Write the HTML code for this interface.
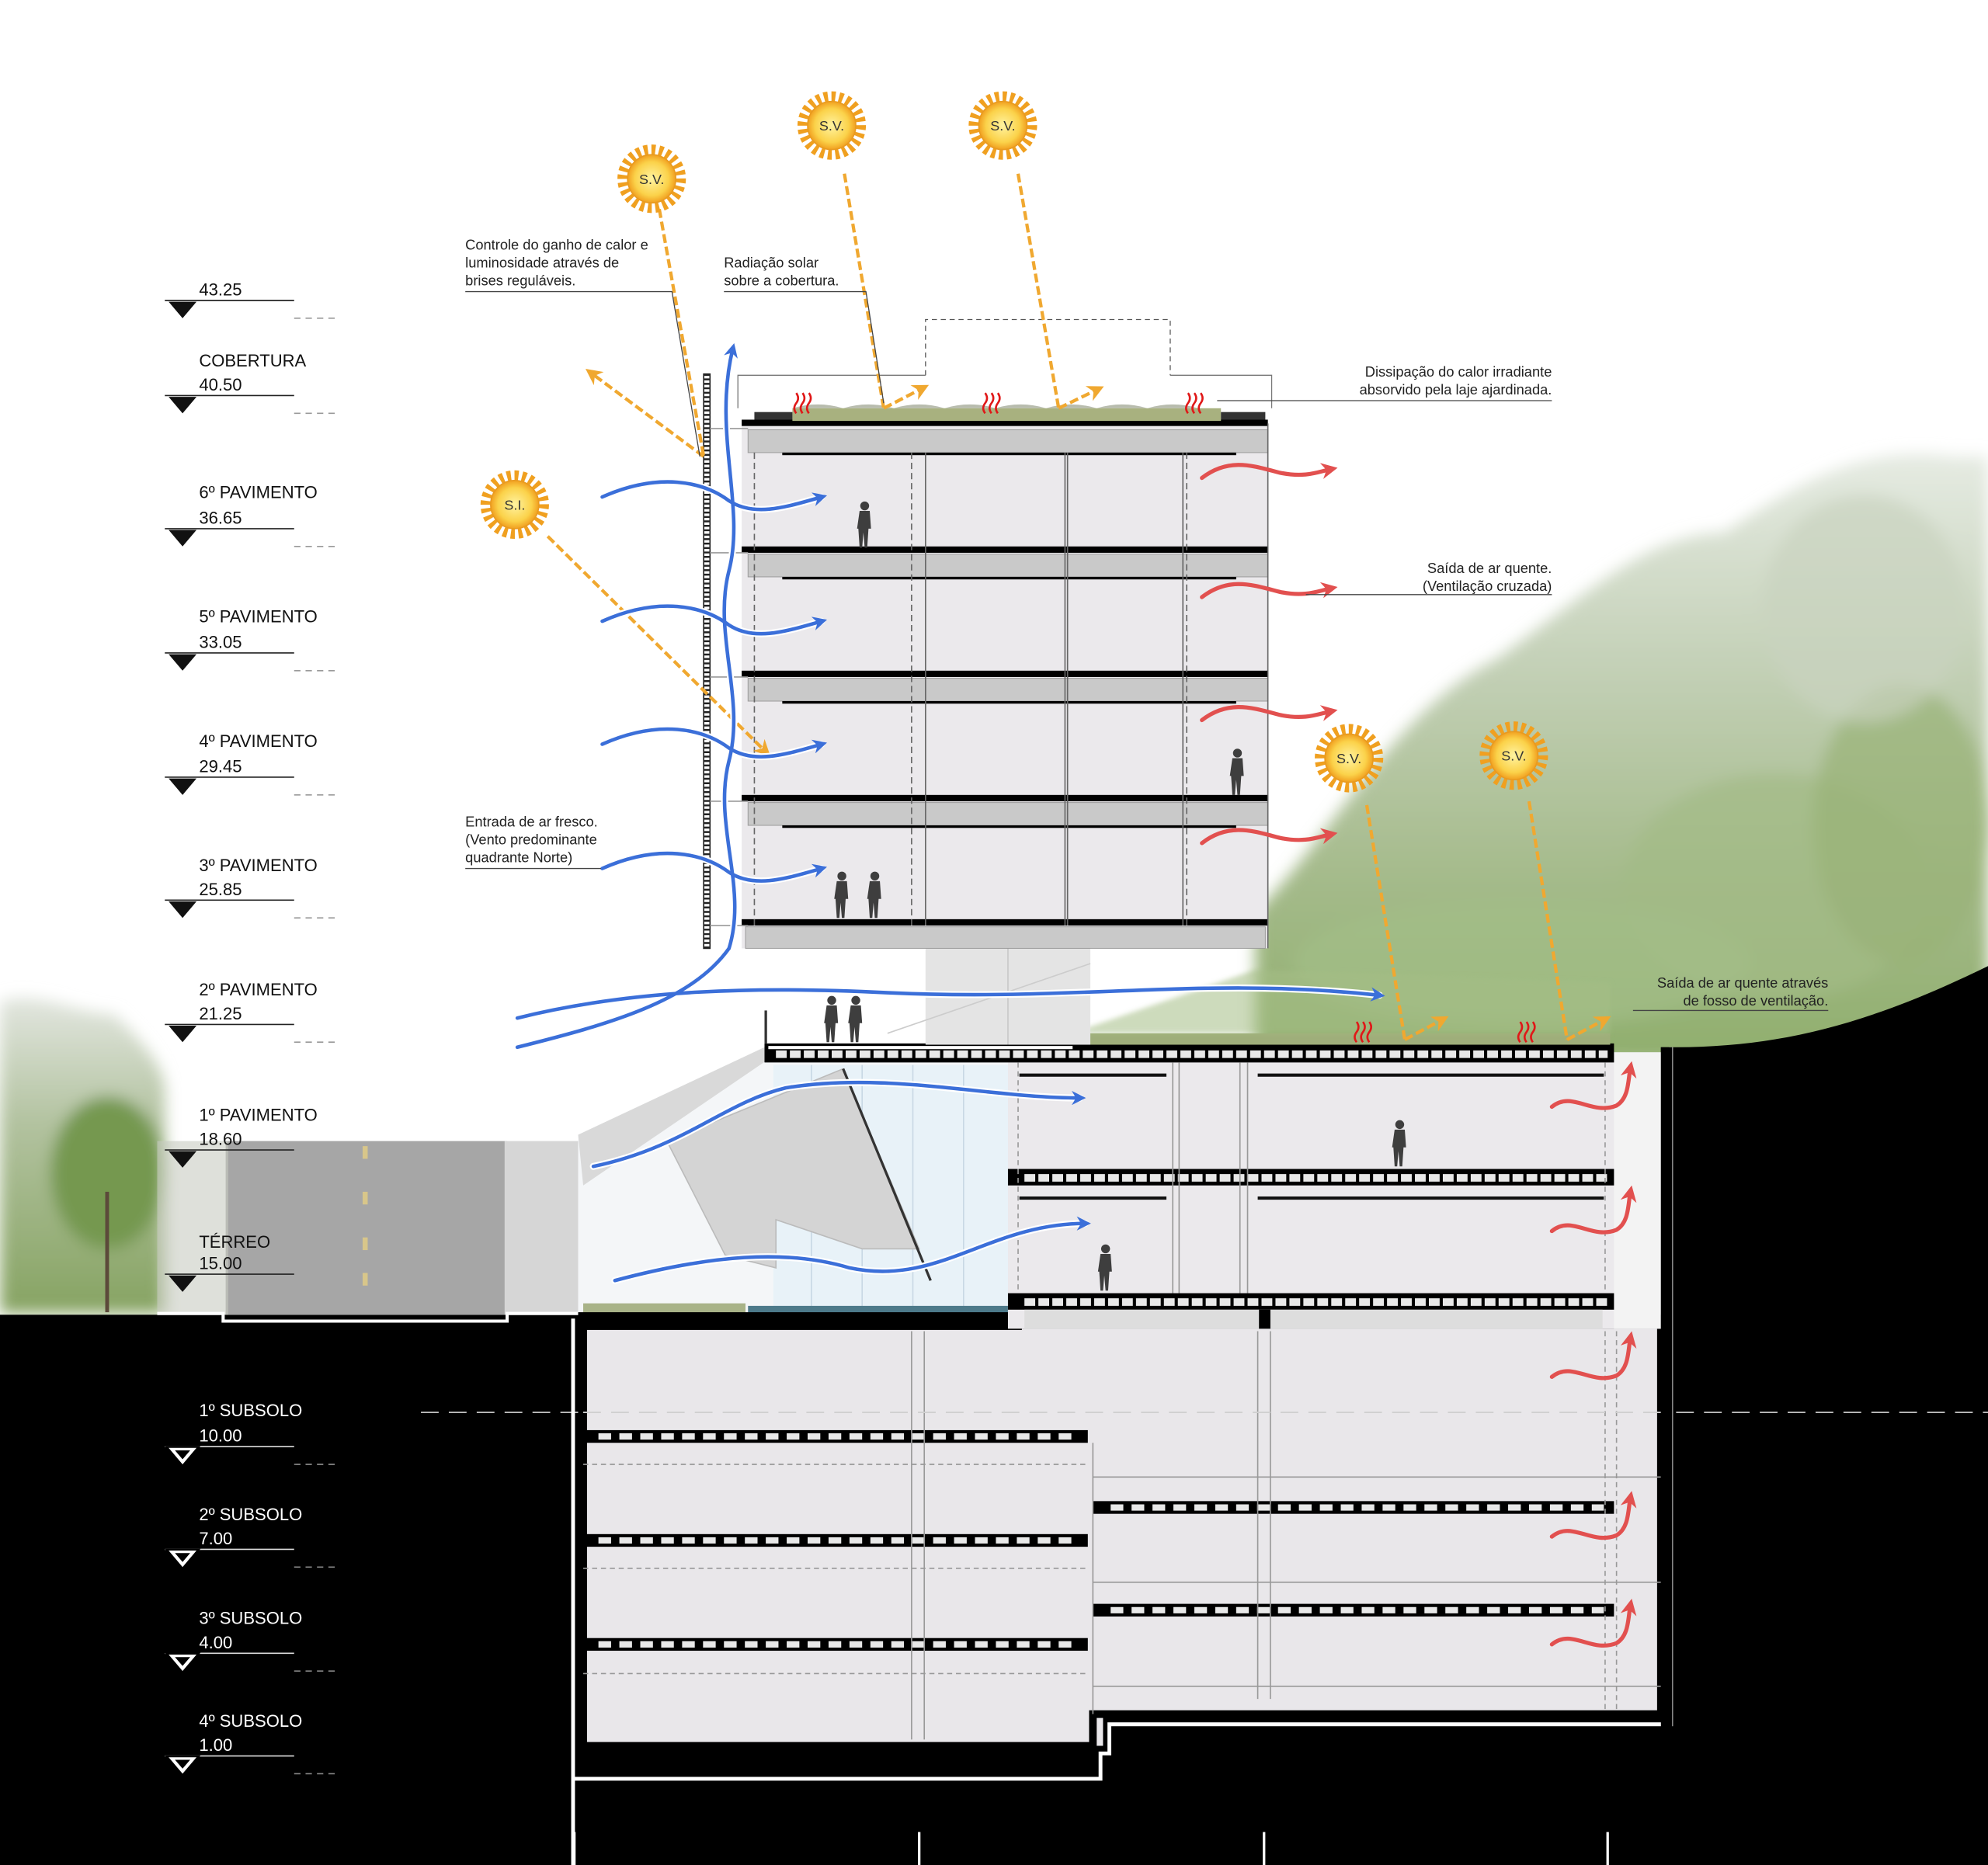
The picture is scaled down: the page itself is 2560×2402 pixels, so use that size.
<!DOCTYPE html>
<html><head><meta charset="utf-8"><style>
html,body{margin:0;padding:0;background:#fff}
svg{display:block}
text{font-family:"Liberation Sans",sans-serif}
</style></head><body>
<svg width="2560" height="2402" viewBox="0 0 1568 1471" preserveAspectRatio="none" xmlns="http://www.w3.org/2000/svg">
<defs>
<linearGradient id="hill" x1="0" y1="0" x2="0" y2="1">
<stop offset="0" stop-color="#e6ebe3"/><stop offset="0.35" stop-color="#c3d0b6"/><stop offset="0.7" stop-color="#a4ba8a"/><stop offset="1" stop-color="#8fae6c"/></linearGradient>
<linearGradient id="ltree" x1="0" y1="0" x2="0" y2="1">
<stop offset="0" stop-color="#e2e6df"/><stop offset="0.4" stop-color="#b2c29f"/><stop offset="1" stop-color="#86a362"/></linearGradient>
<radialGradient id="sun"><stop offset="0" stop-color="#fff3a0"/><stop offset="0.7" stop-color="#fbd24a"/><stop offset="1" stop-color="#f1a020"/></radialGradient>
<filter id="blur"><feGaussianBlur stdDeviation="6"/></filter>
<filter id="blur2"><feGaussianBlur stdDeviation="2"/></filter>
<marker id="ab" viewBox="0 0 10 10" refX="6" refY="5" markerWidth="4" markerHeight="4" orient="auto"><path d="M0,0 L10,5 L0,10 L3,5 z" fill="#3b6fd9"/></marker>
<marker id="ar" viewBox="0 0 10 10" refX="6" refY="5" markerWidth="4" markerHeight="4" orient="auto"><path d="M0,0 L10,5 L0,10 L3,5 z" fill="#e2504f"/></marker>
<marker id="ao" viewBox="0 0 10 10" refX="6" refY="5" markerWidth="5" markerHeight="5" orient="auto"><path d="M0,0 L10,5 L0,10 L3,5 z" fill="#f0a830"/></marker>
<g id="sunG"><circle r="23" fill="none" stroke="#f0a020" stroke-width="8" stroke-dasharray="3.2 2.8"/><circle r="19" fill="url(#sun)" stroke="#e89a20" stroke-width="1"/></g>
<g id="heat" fill="none" stroke="#e01818" stroke-width="1.6"><path d="M0,10 q-3,-4 0,-8 q3,-4 0,-8"/><path d="M5,10 q-3,-4 0,-8 q3,-4 0,-8"/><path d="M10,10 q-3,-4 0,-8 q3,-4 0,-8"/></g>
<g id="person" fill="#3e3e3e"><circle cx="0" cy="-33" r="3.5"/><path d="M-4,-29 h8 l1,14 h-2 l-1,15 h-2 l-1,-12 l-1,12 h-2 l-1,-15 h-1 z"/></g>
</defs>

<!-- greenery right hill -->
<g filter="url(#blur)">
<path d="M990,835 L990,720 C1050,660 1100,560 1180,520 C1250,470 1300,420 1360,420 C1420,380 1470,350 1540,360 L1568,360 L1568,840 Z" fill="url(#hill)"/>
<ellipse cx="1400" cy="700" rx="120" ry="90" fill="#a3ba86" opacity="0.7"/>
<ellipse cx="1500" cy="650" rx="70" ry="110" fill="#98b276" opacity="0.7"/>
<ellipse cx="1200" cy="760" rx="180" ry="50" fill="#a2bd88" opacity="0.7"/>
<ellipse cx="1470" cy="480" rx="80" ry="90" fill="#c9d3bf" opacity="0.7"/>
</g>
<!-- left trees -->
<g filter="url(#blur)">
<path d="M0,790 C30,780 60,800 90,800 C110,820 130,840 130,860 L130,1036 L0,1036 Z" fill="url(#ltree)"/>
<ellipse cx="85" cy="925" rx="45" ry="60" fill="#759850"/>
</g>
<rect x="83" y="940" width="3" height="95" fill="#5c4a3a"/>

<!-- ground black -->
<rect x="0" y="1037" width="1568" height="434" fill="#000"/>
<path d="M1310,826 L1320,826 C1400,826 1470,810 1568,762 L1568,1040 L1310,1040 Z" fill="#000"/>
<line x1="332" y1="1114" x2="1568" y2="1114" stroke="#bbb" stroke-width="1.2" stroke-dasharray="14 8"/>

<!-- road & wall -->
<rect x="178" y="900" width="222" height="137" fill="#a6a6a6"/>
<g fill="#d8c68a"><rect x="286" y="904" width="4" height="10"/><rect x="286" y="940" width="4" height="10"/><rect x="286" y="976" width="4" height="10"/><rect x="286" y="1004" width="4" height="10"/></g>
<rect x="124" y="900" width="56" height="137" fill="#c8cbc2" opacity="0.6"/>
<rect x="398" y="900" width="58" height="137" fill="#d6d6d6"/>
<path d="M124,1036 L176,1036 L176,1042 L400,1042 L400,1036 L456,1036" fill="none" stroke="#fff" stroke-width="2.5"/>

<!-- basement outline -->
<path d="M452,1040 L452,1471 M452,1403 L868,1403 L868,1383 L875,1383 L875,1360 L1318,1360 L1318,826" fill="none" stroke="#fff" stroke-width="3"/>
<path d="M460,1048 L1310,1048 L1310,1352 L870,1352 L870,1377 L460,1377 Z" fill="#e9e7ea"/>
<path d="M460,1048 L460,1377 L862,1377 L862,1352 L1310,1352 L1310,1048" fill="none" stroke="#000" stroke-width="6"/>
<g stroke="#fff" stroke-width="2"><line x1="453" y1="1445" x2="453" y2="1471"/><line x1="725" y1="1445" x2="725" y2="1471"/><line x1="997" y1="1445" x2="997" y2="1471"/><line x1="1268" y1="1445" x2="1268" y2="1471"/></g>
<!-- basement slabs -->
<g fill="#000">
<rect x="460" y="1128" width="398" height="10"/><rect x="460" y="1210" width="398" height="10"/><rect x="460" y="1292" width="398" height="10"/>
<rect x="862" y="1184" width="411" height="10"/><rect x="862" y="1265" width="411" height="10"/>
</g>
<g stroke="#e8e8e8" stroke-width="5" stroke-dasharray="10 6.5">
<line x1="472" y1="1133" x2="850" y2="1133"/><line x1="472" y1="1215" x2="850" y2="1215"/><line x1="472" y1="1297" x2="850" y2="1297"/>
<line x1="876" y1="1189" x2="1265" y2="1189"/><line x1="876" y1="1270" x2="1265" y2="1270"/>
</g>
<g stroke="#999" stroke-width="1" fill="none">
<line x1="719" y1="1050" x2="719" y2="1372"/><line x1="729" y1="1050" x2="729" y2="1372"/>
<line x1="992" y1="1050" x2="992" y2="1340"/><line x1="1002" y1="1050" x2="1002" y2="1340"/>
<line x1="862" y1="1138" x2="862" y2="1352"/>
<line x1="460" y1="1155" x2="858" y2="1155" stroke-dasharray="4 3"/>
<line x1="460" y1="1237" x2="858" y2="1237" stroke-dasharray="4 3"/>
<line x1="460" y1="1320" x2="858" y2="1320" stroke-dasharray="4 3"/>
<line x1="862" y1="1165" x2="1310" y2="1165"/>
<line x1="862" y1="1248" x2="1310" y2="1248"/>
<line x1="862" y1="1330" x2="1310" y2="1330"/>
<line x1="1266" y1="1050" x2="1266" y2="1350" stroke-dasharray="4 3"/>
<line x1="1275" y1="1050" x2="1275" y2="1350" stroke-dasharray="4 3"/>
</g>
<line x1="460" y1="1114" x2="1310" y2="1114" stroke="#d0d0d0" stroke-width="1.2" stroke-dasharray="14 8"/>

<!-- atrium area -->
<path d="M456,895 L603,826 L795,826 L795,1035 L456,1035 Z" fill="#f4f6f8"/>
<path d="M610,840 L795,840 L795,1035 L610,1035 Z" fill="#e8f2f8"/>
<g stroke="#c8d8e4" stroke-width="1"><line x1="640" y1="840" x2="640" y2="1035"/><line x1="680" y1="840" x2="680" y2="1035"/><line x1="720" y1="840" x2="720" y2="1035"/><line x1="760" y1="840" x2="760" y2="1035"/></g>
<path d="M456,895 L603,826 L620,826 L460,935 Z" fill="#d9d9d9"/>
<path d="M526,900 L665,843 L725,985 L680,985 L612,962 L612,1000 L572,990 Z" fill="#d4d4d4" stroke="#bbb"/>
<line x1="665" y1="843" x2="734" y2="1010" stroke="#333" stroke-width="2"/>
<rect x="460" y="1028" width="128" height="9" fill="#a8b388"/>
<rect x="590" y="1030" width="205" height="6" fill="#4d7a8a"/>
<rect x="456" y="1035" width="350" height="14" fill="#000"/>

<!-- podium -->
<rect x="795" y="830" width="515" height="218" fill="#ebe9ec"/>
<rect x="1273" y="830" width="37" height="218" fill="#f3f3f3"/>
<g fill="#000">
<rect x="603" y="823" width="670" height="15"/>
<rect x="795" y="922" width="478" height="13"/>
<rect x="795" y="1020" width="478" height="13"/>
</g>
<rect x="606" y="825" width="240" height="2.5" fill="#fff"/>
<g stroke="#e8e8e8" stroke-width="6" stroke-dasharray="8.5 2.5">
<line x1="612" y1="831.5" x2="1268" y2="831.5"/>
<line x1="808" y1="929" x2="1268" y2="929"/>
<line x1="808" y1="1027" x2="1268" y2="1027"/>
</g>
<rect x="808" y="1033" width="185" height="15" fill="#ddd"/>
<rect x="1002" y="1033" width="262" height="15" fill="#ddd"/>
<rect x="993" y="1033" width="9" height="15" fill="#000"/>
<g stroke="#111" stroke-width="2.5"><line x1="804" y1="848" x2="920" y2="848"/><line x1="992" y1="848" x2="1265" y2="848"/><line x1="804" y1="945" x2="920" y2="945"/><line x1="992" y1="945" x2="1265" y2="945"/></g>
<g stroke="#999" stroke-width="1" fill="none"><line x1="925" y1="838" x2="925" y2="1020"/><line x1="930" y1="838" x2="930" y2="1020"/><line x1="978" y1="838" x2="978" y2="1020"/><line x1="984" y1="838" x2="984" y2="1020"/><line x1="803" y1="838" x2="803" y2="1020" stroke-dasharray="4 3"/><line x1="1266" y1="838" x2="1266" y2="1020" stroke-dasharray="4 3"/></g>
<rect x="1310" y="826" width="9" height="550" fill="#000"/>
<!-- green roof -->
<rect x="845" y="815" width="425" height="9" fill="#9fae7a"/>
<path d="M845,815 L990,765 L1270,775 L1270,815 Z" fill="#a5be86" opacity="0.55" filter="url(#blur2)"/>

<!-- column under tower -->
<rect x="730" y="748" width="130" height="76" fill="#e4e4e4"/>
<line x1="795" y1="748" x2="795" y2="824" stroke="#c8c8c8"/>
<line x1="700" y1="815" x2="860" y2="760" stroke="#ccc"/>
<rect x="603" y="797" width="2" height="26" fill="#333"/>

<!-- tower -->
<rect x="585" y="334" width="415" height="414" fill="#ebe9ec"/>
<g fill="#c9c9c9" stroke="#9a9a9a" stroke-width="0.6">
<rect x="590" y="339" width="410" height="18"/><rect x="590" y="437" width="410" height="18"/><rect x="590" y="535" width="410" height="18"/><rect x="590" y="633" width="410" height="18"/><rect x="588" y="731" width="410" height="17"/>
</g>
<g fill="#000">
<rect x="585" y="331" width="415" height="5"/><rect x="585" y="431" width="415" height="5"/><rect x="585" y="529" width="415" height="5"/><rect x="585" y="627" width="415" height="5"/><rect x="585" y="725" width="415" height="5"/>
<rect x="617" y="357" width="358" height="2"/><rect x="617" y="455" width="358" height="2"/><rect x="617" y="553" width="358" height="2"/><rect x="617" y="651" width="358" height="2"/>
</g>
<g stroke="#666" stroke-width="1" fill="none">
<line x1="719" y1="357" x2="719" y2="730" stroke-dasharray="5 3"/><line x1="730" y1="357" x2="730" y2="730"/>
<line x1="840" y1="357" x2="840" y2="730"/><line x1="842" y1="357" x2="842" y2="730"/>
<line x1="933" y1="357" x2="933" y2="730"/><line x1="936" y1="357" x2="936" y2="730" stroke-dasharray="5 3"/>
<line x1="595" y1="357" x2="595" y2="730" stroke-dasharray="5 3"/>
<line x1="1000" y1="334" x2="1000" y2="748"/>
</g>
<rect x="625" y="322" width="338" height="10" fill="#a8b17f"/>
<path d="M625,322 q20,-6 40,0 q20,-6 40,0 q20,-6 40,0 q20,-6 40,0 q20,-6 40,0 q20,-6 40,0 q20,-6 40,0 q20,-6 40,0 z" fill="#b8bcae"/>
<rect x="595" y="325" width="30" height="6" fill="#333"/><rect x="963" y="325" width="35" height="6" fill="#333"/>
<path d="M730,296 L730,252 L923,252 L923,296" fill="none" stroke="#555" stroke-width="0.8" stroke-dasharray="4 3"/>
<path d="M582,322 L582,296 L730,296 M923,296 L1003,296 L1003,322" fill="none" stroke="#777" stroke-width="0.8"/>
<!-- brise screen -->
<rect x="555" y="295" width="5" height="453" fill="#fff" stroke="#222" stroke-width="1"/>
<line x1="557.5" y1="295" x2="557.5" y2="748" stroke="#222" stroke-width="4" stroke-dasharray="1.5 2"/>
<g stroke="#999" stroke-width="1"><line x1="560" y1="338" x2="590" y2="338"/><line x1="560" y1="436" x2="590" y2="436"/><line x1="560" y1="534" x2="590" y2="534"/><line x1="560" y1="632" x2="590" y2="632"/><line x1="560" y1="730" x2="590" y2="730"/></g>

<!-- people -->
<use href="#person" x="682" y="432"/>
<use href="#person" x="976" y="627"/>
<use href="#person" x="664" y="724"/><use href="#person" x="690" y="724"/>
<use href="#person" x="656" y="822"/><use href="#person" x="675" y="822"/>
<use href="#person" x="1104" y="920"/>
<use href="#person" x="872" y="1018"/>

<!-- heat symbols -->
<use href="#heat" x="628" y="316"/><use href="#heat" x="777" y="316"/><use href="#heat" x="937" y="316"/>
<use href="#heat" x="1070" y="812"/><use href="#heat" x="1199" y="812"/>

<!-- orange solar arrows -->
<g stroke="#f0a830" stroke-width="2.6" fill="none" stroke-dasharray="7 3">
<line x1="520" y1="165" x2="555" y2="360"/>
<line x1="555" y1="360" x2="466" y2="294" marker-end="url(#ao)"/>
<line x1="666" y1="137" x2="697" y2="322"/>
<line x1="697" y1="322" x2="728" y2="306" marker-end="url(#ao)"/>
<line x1="803" y1="137" x2="835" y2="322"/>
<line x1="835" y1="322" x2="866" y2="307" marker-end="url(#ao)"/>
<line x1="432" y1="423" x2="604" y2="593" marker-end="url(#ao)"/>
<line x1="1078" y1="635" x2="1108" y2="820"/>
<line x1="1108" y1="820" x2="1138" y2="804" marker-end="url(#ao)"/>
<line x1="1206" y1="632" x2="1236" y2="820"/>
<line x1="1236" y1="820" x2="1266" y2="804" marker-end="url(#ao)"/>
</g>

<!-- suns -->
<g font-size="11" text-anchor="middle" fill="#333">
<use href="#sunG" x="514" y="141"/><text x="514" y="145">S.V.</text>
<use href="#sunG" x="656" y="99"/><text x="656" y="103">S.V.</text>
<use href="#sunG" x="791" y="99"/><text x="791" y="103">S.V.</text>
<use href="#sunG" x="406" y="398"/><text x="406" y="402">S.I.</text>
<use href="#sunG" x="1064" y="598"/><text x="1064" y="602">S.V.</text>
<use href="#sunG" x="1194" y="596"/><text x="1194" y="600">S.V.</text>
</g>

<!-- blue wind -->
<g fill="none" stroke-linecap="round">
<g stroke="#fff" stroke-width="5.5">
<path d="M575,748 C590,700 562,650 575,600 C588,550 562,500 575,450 C588,400 562,340 578,275"/>
<path d="M475,392 C520,372 555,380 575,395 C595,408 620,400 648,392"/>
<path d="M475,490 C520,470 555,478 575,493 C595,506 620,498 648,490"/>
<path d="M475,587 C520,567 555,575 575,590 C595,603 620,595 648,587"/>
<path d="M475,685 C520,665 555,673 575,688 C595,701 620,693 648,685"/>
<path d="M408,803 C500,780 600,778 700,783 C850,790 950,770 1088,785"/>
<path d="M408,826 C480,808 545,790 575,748"/>
<path d="M468,920 C540,905 570,870 620,858 C700,845 780,866 852,866"/>
<path d="M485,1010 C560,990 620,985 670,1000 C740,1015 780,965 856,965"/>
</g>
<g stroke="#3b6fd9" stroke-width="2.8">
<path d="M575,748 C590,700 562,650 575,600 C588,550 562,500 575,450 C588,400 562,340 578,275" marker-end="url(#ab)"/>
<path d="M475,392 C520,372 555,380 575,395 C595,408 620,400 648,392" marker-end="url(#ab)"/>
<path d="M475,490 C520,470 555,478 575,493 C595,506 620,498 648,490" marker-end="url(#ab)"/>
<path d="M475,587 C520,567 555,575 575,590 C595,603 620,595 648,587" marker-end="url(#ab)"/>
<path d="M475,685 C520,665 555,673 575,688 C595,701 620,693 648,685" marker-end="url(#ab)"/>
<path d="M408,803 C500,780 600,778 700,783 C850,790 950,770 1088,785" marker-end="url(#ab)"/>
<path d="M408,826 C480,808 545,790 575,748"/>
<path d="M468,920 C540,905 570,870 620,858 C700,845 780,866 852,866" marker-end="url(#ab)"/>
<path d="M485,1010 C560,990 620,985 670,1000 C740,1015 780,965 856,965" marker-end="url(#ab)"/>
</g>
<g stroke="#e2504f" stroke-width="3.2">
<path d="M948,377 C970,360 990,368 1010,373 C1030,377 1040,372 1050,370" marker-end="url(#ar)"/>
<path d="M948,471 C970,454 990,462 1010,467 C1030,471 1040,466 1050,464" marker-end="url(#ar)"/>
<path d="M948,568 C970,551 990,559 1010,564 C1030,568 1040,563 1050,561" marker-end="url(#ar)"/>
<path d="M948,665 C970,648 990,656 1010,661 C1030,665 1040,660 1050,658" marker-end="url(#ar)"/>
<path d="M1224,873 C1240,860 1255,880 1275,872 C1285,866 1284,852 1286,842" marker-end="url(#ar)"/>
<path d="M1224,971 C1240,958 1255,978 1275,970 C1285,964 1284,950 1286,940" marker-end="url(#ar)"/>
<path d="M1224,1086 C1240,1073 1255,1093 1275,1085 C1285,1079 1284,1065 1286,1055" marker-end="url(#ar)"/>
<path d="M1224,1212 C1240,1199 1255,1219 1275,1211 C1285,1205 1284,1191 1286,1181" marker-end="url(#ar)"/>
<path d="M1224,1297 C1240,1284 1255,1304 1275,1296 C1285,1290 1284,1276 1286,1266" marker-end="url(#ar)"/>
</g>
</g>

<!-- level markers -->
<g font-size="13.5" fill="#111">
<g>
<text x="157" y="233">43.25</text>
<text x="157" y="289">COBERTURA</text><text x="157" y="308">40.50</text>
<text x="157" y="393">6º PAVIMENTO</text><text x="157" y="413">36.65</text>
<text x="157" y="491">5º PAVIMENTO</text><text x="157" y="511">33.05</text>
<text x="157" y="589">4º PAVIMENTO</text><text x="157" y="609">29.45</text>
<text x="157" y="687">3º PAVIMENTO</text><text x="157" y="706">25.85</text>
<text x="157" y="785">2º PAVIMENTO</text><text x="157" y="804">21.25</text>
<text x="157" y="884">1º PAVIMENTO</text><text x="157" y="903">18.60</text>
<text x="157" y="984">TÉRREO</text><text x="157" y="1001">15.00</text>
</g>
<g fill="#fff">
<text x="157" y="1117">1º SUBSOLO</text><text x="157" y="1137">10.00</text>
<text x="157" y="1199">2º SUBSOLO</text><text x="157" y="1218">7.00</text>
<text x="157" y="1281">3º SUBSOLO</text><text x="157" y="1300">4.00</text>
<text x="157" y="1362">4º SUBSOLO</text><text x="157" y="1381">1.00</text>
</g>
</g>
<g stroke="#222" stroke-width="1">
<line x1="130" y1="237" x2="232" y2="237"/><line x1="130" y1="312" x2="232" y2="312"/><line x1="130" y1="417" x2="232" y2="417"/><line x1="130" y1="515" x2="232" y2="515"/><line x1="130" y1="613" x2="232" y2="613"/><line x1="130" y1="710" x2="232" y2="710"/><line x1="130" y1="808" x2="232" y2="808"/><line x1="130" y1="907" x2="232" y2="907"/><line x1="130" y1="1005" x2="232" y2="1005"/>
</g>
<g stroke="#999" stroke-width="1" stroke-dasharray="5 4">
<line x1="232" y1="251" x2="268" y2="251"/><line x1="232" y1="326" x2="268" y2="326"/><line x1="232" y1="431" x2="268" y2="431"/><line x1="232" y1="529" x2="268" y2="529"/><line x1="232" y1="627" x2="268" y2="627"/><line x1="232" y1="724" x2="268" y2="724"/><line x1="232" y1="822" x2="268" y2="822"/>
</g>
<g stroke="#ddd" stroke-width="1">
<line x1="130" y1="1141" x2="232" y2="1141"/><line x1="130" y1="1222" x2="232" y2="1222"/><line x1="130" y1="1304" x2="232" y2="1304"/><line x1="130" y1="1385" x2="232" y2="1385"/>
</g>
<g stroke="#888" stroke-width="1" stroke-dasharray="5 4">
<line x1="232" y1="1155" x2="268" y2="1155"/><line x1="232" y1="1236" x2="268" y2="1236"/><line x1="232" y1="1318" x2="268" y2="1318"/><line x1="232" y1="1399" x2="268" y2="1399"/>
</g>
<g fill="#111">
<path d="M133,238 h22 l-11,13 z"/><path d="M133,313 h22 l-11,13 z"/><path d="M133,418 h22 l-11,13 z"/><path d="M133,516 h22 l-11,13 z"/><path d="M133,614 h22 l-11,13 z"/><path d="M133,711 h22 l-11,13 z"/><path d="M133,809 h22 l-11,13 z"/><path d="M133,908 h22 l-11,13 z"/><path d="M133,1006 h22 l-11,13 z"/>
</g>
<g fill="#fff" stroke="#000" stroke-width="3" paint-order="stroke">
<path d="M133,1142 h22 l-11,13 z"/><path d="M133,1223 h22 l-11,13 z"/><path d="M133,1305 h22 l-11,13 z"/><path d="M133,1386 h22 l-11,13 z"/>
</g>
<g fill="#000"><path d="M138,1144 h12 l-6,7 z"/><path d="M138,1225 h12 l-6,7 z"/><path d="M138,1307 h12 l-6,7 z"/><path d="M138,1388 h12 l-6,7 z"/></g>

<!-- annotations -->
<g font-size="11.2" fill="#222">
<text x="367" y="197">Controle do ganho de calor e</text>
<text x="367" y="211">luminosidade através de</text>
<text x="367" y="225">brises reguláveis.</text>
<text x="571" y="211">Radiação solar</text>
<text x="571" y="225">sobre a cobertura.</text>
<text x="1224" y="297" text-anchor="end">Dissipação do calor irradiante</text>
<text x="1224" y="311" text-anchor="end">absorvido pela laje ajardinada.</text>
<text x="1224" y="452" text-anchor="end">Saída de ar quente.</text>
<text x="1224" y="466" text-anchor="end">(Ventilação cruzada)</text>
<text x="367" y="652">Entrada de ar fresco.</text>
<text x="367" y="666">(Vento predominante</text>
<text x="367" y="680">quadrante Norte)</text>
<text x="1442" y="779" text-anchor="end">Saída de ar quente através</text>
<text x="1442" y="793" text-anchor="end">de fosso de ventilação.</text>
</g>
<g stroke="#444" stroke-width="0.8" fill="none">
<path d="M367,230 L530,230 L552,360"/>
<path d="M571,230 L683,230 L697,318"/>
<path d="M960,316 L1224,316"/>
<path d="M1030,469 L1224,469"/>
<path d="M367,685 L474,685"/>
<path d="M1288,797 L1442,797"/>
</g>
</svg>
</body></html>
